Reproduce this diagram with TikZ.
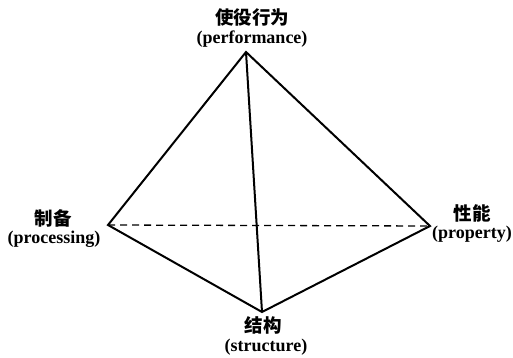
\documentclass[tikz,border=0pt]{standalone}
\usepackage{fontspec}
\setmainfont{Liberation Serif}
\newfontfamily\cjk{Noto Sans CJK SC}[BoldFont={* Black}]
\begin{document}
\begin{tikzpicture}[x=1pt,y=-1pt,
  edge/.style={line width=2pt,line join=miter},
  hidden/.style={line width=1.3pt,dash pattern=on 7pt off 5pt},
  cn/.style={font=\cjk\bfseries\fontsize{18.5}{18.5}\selectfont,inner sep=0pt},
  en/.style={font=\bfseries\fontsize{18}{18}\selectfont,inner sep=0pt}]
\useasboundingbox (0,0) rectangle (513,358);
\coordinate (T) at (246,52);
\coordinate (L) at (108,225);
\coordinate (R) at (430,226);
\coordinate (B) at (262,312);
\draw[hidden] (L) -- (R);
\draw[edge] (L) -- (T) -- (R) -- (B) -- cycle;
\draw[edge] (T) -- (B);
\node[cn] (tcn) at (252,17) {使役行为};
\node[en] (ten) at (252,39) {(performance)};
\node[cn] (lcn) at (53,218) {制备};
\node[en] (len) at (54,239) {(processing)};
\node[cn] (rcn) at (472,213) {性能};
\node[en] (ren) at (472,234) {(property)};
\node[cn] (bcn) at (263,325) {结构};
\node[en] (ben) at (266,347) {(structure)};
\end{tikzpicture}
\end{document}
